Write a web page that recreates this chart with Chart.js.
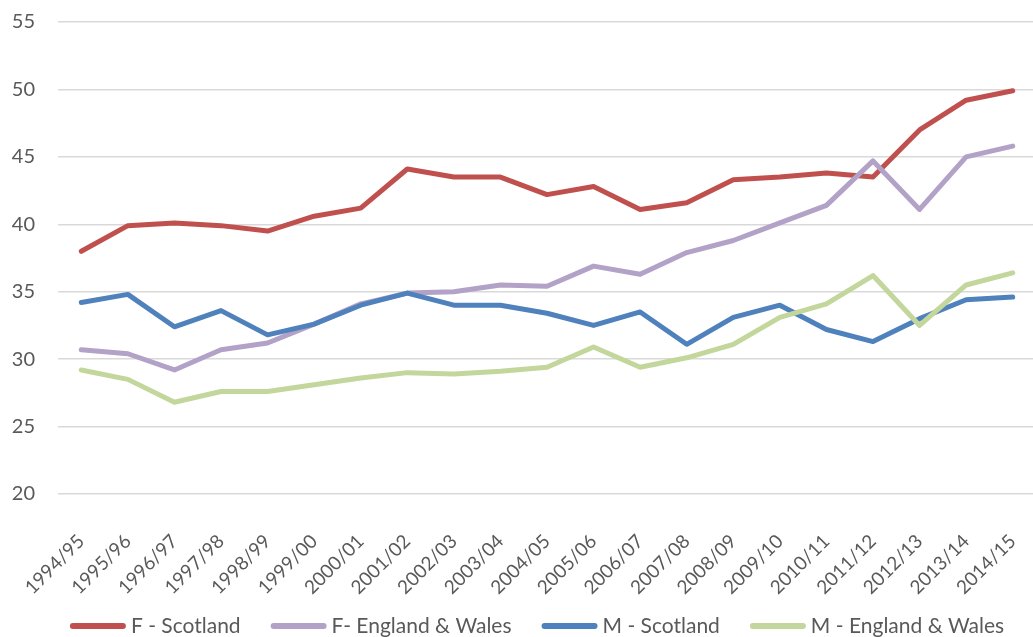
<!DOCTYPE html>
<html>
<head>
<meta charset="utf-8">
<script src="https://cdn.jsdelivr.net/npm/chart.js@4/dist/chart.umd.min.js"></script>
<style>
  html, body { margin: 0; padding: 0; background: #fff; }
  #wrap { width: 1033px; height: 637px; overflow: hidden; }
</style>
</head>
<body>
<div id="wrap">
  <canvas id="chart" width="1040" height="637"></canvas>
</div>
<script>
'use strict';

let years = ['1994/95', '1995/96', '1996/97', '1997/98', '1998/99', '1999/00', '2000/01',
  '2001/02', '2002/03', '2003/04', '2004/05', '2005/06', '2006/07', '2007/08', '2008/09',
  '2009/10', '2010/11', '2011/12', '2012/13', '2013/14', '2014/15'];

let femaleScotland = [38.0, 39.9, 40.1, 39.9, 39.5, 40.6, 41.2, 44.1, 43.5, 43.5, 42.2,
  42.8, 41.1, 41.6, 43.3, 43.5, 43.8, 43.5, 47.0, 49.2, 49.9];
let femaleEngWales = [30.7, 30.4, 29.2, 30.7, 31.2, 32.6, 34.1, 34.9, 35.0, 35.5, 35.4,
  36.9, 36.3, 37.9, 38.8, 40.1, 41.4, 44.7, 41.1, 45.0, 45.8];
let maleScotland = [34.2, 34.8, 32.4, 33.6, 31.8, 32.6, 34.0, 34.9, 34.0, 34.0, 33.4,
  32.5, 33.5, 31.1, 33.1, 34.0, 32.2, 31.3, 33.0, 34.4, 34.6];
let maleEngWales = [29.2, 28.5, 26.8, 27.6, 27.6, 28.1, 28.6, 29.0, 28.9, 29.1, 29.4,
  30.9, 29.4, 30.1, 31.1, 33.1, 34.1, 36.2, 32.5, 35.5, 36.4];

let yTicks = [20, 25, 30, 35, 40, 45, 50, 55];

let ctx = document.getElementById('chart').getContext('2d');
let textColor = '#595959';
let fontFamily = 'Lato, "Open Sans", sans-serif';

function makeLine(label, data, color, order) {
  return {
    label: label,
    data: data,
    borderColor: color,
    backgroundColor: color,
    borderWidth: 5,
    pointRadius: 0,
    pointHoverRadius: 0,
    tension: 0,
    borderJoinStyle: 'round',
    borderCapStyle: 'round',
    fill: false,
    order: order
  };
}

// legend drawn by hand: line swatch, small gap, label, centred under the plot
const bottomLegend = {
  id: 'bottomLegend',
  afterDraw(chart) {
    const c = chart.ctx;
    const swatch = 56;
    const gap = 5;
    const spacing = 30;
    const centerX = 537;
    const y = 626;
    c.save();
    c.font = '21px ' + fontFamily;
    c.textBaseline = 'middle';
    const items = chart.data.datasets.map(ds => ({
      label: ds.label,
      color: ds.borderColor,
      width: swatch + gap + c.measureText(ds.label).width
    }));
    let total = items.reduce((sum, it) => sum + it.width, 0) + spacing * (items.length - 1);
    let x = centerX - total / 2;
    items.forEach(it => {
      c.strokeStyle = it.color;
      c.lineWidth = 6;
      c.lineCap = 'round';
      c.beginPath();
      c.moveTo(x + 3, y);
      c.lineTo(x + swatch - 3, y);
      c.stroke();
      c.fillStyle = textColor;
      c.fillText(it.label, x + swatch + gap, y);
      x += it.width + spacing;
    });
    c.restore();
  }
};

const chartData = {
  type: 'line',
  data: {
    labels: years,
    datasets: [
      makeLine('F - Scotland', femaleScotland, '#C0504D', 4),
      makeLine('F- England & Wales', femaleEngWales, '#B3A2C7', 3),
      makeLine('M - Scotland', maleScotland, '#4F81BD', 2),
      makeLine('M - England & Wales', maleEngWales, '#C3D69B', 1)
    ]
  },
  options: {
    responsive: false,
    animation: false,
    layout: {
      padding: { top: 22, left: 0, right: 4, bottom: 38 }
    },
    plugins: {
      tooltip: { enabled: false },
      legend: { display: false }
    },
    scales: {
      x: {
        offset: true,
        grid: { display: false },
        border: { display: false },
        ticks: {
          color: textColor,
          font: { family: fontFamily, size: 19 },
          minRotation: 45,
          maxRotation: 45,
          autoSkip: false,
          padding: 28
        },
        afterFit: (axis) => {
          // fixed band for the slanted labels; they may hang past the plot edges
          axis.height = 105;
          axis.paddingLeft = 0;
          axis.paddingRight = 0;
        }
      },
      y: {
        min: 20,
        max: 55,
        border: { display: false },
        // invisible tick marks give the gap between the labels and the plot
        grid: { color: '#D9D9D9', lineWidth: 1.5, drawTicks: true, tickLength: 23, tickColor: 'rgba(0,0,0,0)' },
        afterBuildTicks: (axis) => { axis.ticks = yTicks.map(v => ({ value: v })); },
        ticks: {
          color: textColor,
          font: { family: fontFamily, size: 20 },
          padding: 0
        },
        afterFit: (axis) => { axis.width = 58; }
      }
    }
  },
  plugins: [bottomLegend]
};

new Chart(ctx, chartData);
</script>
</body>
</html>
